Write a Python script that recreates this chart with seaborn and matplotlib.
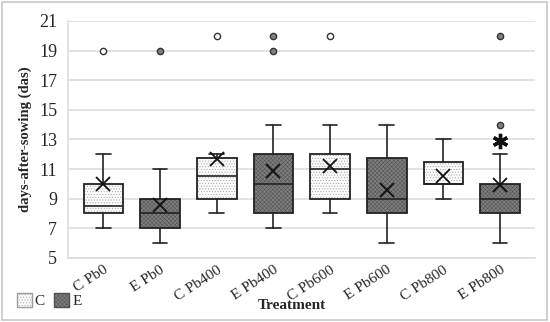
import numpy as np
import matplotlib
matplotlib.use("Agg")
import matplotlib.pyplot as plt
import matplotlib.transforms as mtransforms
from matplotlib.patches import Patch, Rectangle, PathPatch
import seaborn as sns

# --- Data ---
treatments = ["C Pb0", "E Pb0", "C Pb400", "E Pb400",
              "C Pb600", "E Pb600", "C Pb800", "E Pb800"]
groups = ["C", "E", "C", "E", "C", "E", "C", "E"]
whisker_low = [7, 6, 8, 7, 8, 6, 9, 6]
q1 = [8, 7, 9, 8, 9, 8, 10, 8]
median = [8.5, 8, 10.5, 10, 11, 9, 10, 9]
q3 = [10, 9, 11.75, 12, 12, 11.75, 11.5, 10]
whisker_high = [12, 11, 12, 14, 14, 14, 13, 12]
means = [10.0, 8.6, 11.7, 10.9, 11.2, 9.6, 10.5, 9.9]
outliers = [[19], [19], [20], [19, 20], [20], [], [], [14, 20]]
sig_marks = [False, False, False, False, False, False, False, True]

sns.set_theme(style="whitegrid")
plt.rcParams["font.family"] = ["Liberation Serif", "DejaVu Serif"]
plt.rcParams["hatch.linewidth"] = 0.35

fig = plt.figure(figsize=(5.5, 3.22), dpi=100)
ax = fig.add_axes([0.124, 0.199, 0.849, 0.736])

styles = {
    "C": dict(face="#fbfbfb", hatch_col="#9c9c9c", hatch="......",
              flier_face="white"),
    "E": dict(face="#7e7e7e", hatch_col="#505050", hatch="xxxxxxxx",
              flier_face="#808080"),
}
dark = "#222222"

positions = np.arange(len(treatments))
for g, st in styles.items():
    idx = [i for i, gg in enumerate(groups) if gg == g]
    stats = [dict(whislo=whisker_low[i], q1=q1[i], med=median[i], q3=q3[i],
                  whishi=whisker_high[i], mean=means[i], fliers=outliers[i])
             for i in idx]
    bp = ax.bxp(stats, positions=positions[idx], widths=0.7, patch_artist=True,
                showmeans=True, showfliers=True,
                boxprops=dict(facecolor=st["face"], edgecolor=st["hatch_col"],
                              linewidth=0, hatch=st["hatch"]),
                medianprops=dict(color=dark, linewidth=1.2),
                whiskerprops=dict(color=dark, linewidth=1.2),
                capprops=dict(color=dark, linewidth=1.2),
                capwidths=0.26,
                meanprops=dict(marker="x", markeredgecolor="#111111",
                               markersize=10, markeredgewidth=1.3),
                flierprops=dict(marker="o", markerfacecolor=st["flier_face"],
                                markeredgecolor="#333333", markersize=4.5,
                                markeredgewidth=1.0))
    for b in bp["boxes"]:
        b.set_zorder(2)
        ax.add_patch(PathPatch(b.get_path(), fill=False, edgecolor=dark,
                               linewidth=1.3, zorder=2.1))
    for m in bp["medians"] + bp["means"]:
        m.set_zorder(3)

# significance marker above the upper whisker
for i, s in enumerate(sig_marks):
    if s:
        ax.plot(positions[i], whisker_high[i] + 0.9, marker=(6, 2, 0),
                markersize=11, markeredgewidth=2.4, color="#111111",
                linestyle="none", zorder=3)

ax.set_xlim(-0.62, len(treatments) - 0.38)
ax.set_ylim(5, 21)
ax.set_yticks(np.arange(5, 22, 2))
ax.set_xticks(positions)
ax.set_xticklabels(treatments, rotation=33, ha="right", rotation_mode="anchor",
                   fontsize=11)
shift = mtransforms.ScaledTranslation(13 / 100, 0, fig.dpi_scale_trans)
for lbl in ax.get_xticklabels():
    lbl.set_transform(lbl.get_transform() + shift)
ax.tick_params(axis="y", labelsize=13, pad=8, length=0)
ax.tick_params(axis="x", length=0, pad=4)
ax.grid(axis="y", color="#dddddd", linewidth=1.2)
ax.grid(axis="x", visible=False)
ax.set_axisbelow(True)
for side in ["top", "right"]:
    ax.spines[side].set_visible(False)
for side in ["left", "bottom"]:
    ax.spines[side].set_color("#dddddd")
    ax.spines[side].set_linewidth(1.2)

ax.set_ylabel("days-after-sowing (das)", fontsize=10.5, fontweight="bold",
              labelpad=5)
fig.text(0.53, 0.03, "Treatment", ha="center", va="bottom", fontsize=11,
         fontweight="bold")

handles = [Patch(facecolor=styles[g]["face"], edgecolor=styles[g]["hatch_col"],
                 hatch=styles[g]["hatch"], label=g) for g in ["C", "E"]]
fig.legend(handles=handles, loc="lower left", bbox_to_anchor=(0.005, 0.0),
           ncol=2, frameon=False, fontsize=11, handlelength=1.0,
           handleheight=1.0, handletextpad=0.2, columnspacing=0.6)

fig.patches.append(Rectangle((0.004, 0.006), 0.991, 0.988,
                             transform=fig.transFigure, fill=False,
                             edgecolor="#c8c8c8", linewidth=1.2))

fig.savefig("out.png", dpi=100)
